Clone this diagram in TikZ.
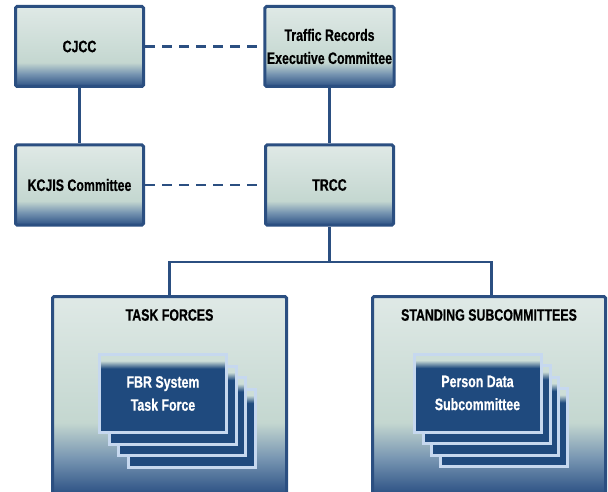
\documentclass[tikz,border=0pt]{standalone}
\usepackage{fontspec}
\setmainfont{Liberation Sans}[FakeStretch=0.75, BoldFeatures={FakeBold=0.6}]
\definecolor{boxline}{RGB}{43,79,129}
\definecolor{boxtop}{RGB}{223,233,230}
\definecolor{boxmid}{RGB}{196,215,208}
\definecolor{boxsteel}{RGB}{120,150,178}
\definecolor{boxdeep}{RGB}{45,82,133}
\definecolor{cardpale}{RGB}{205,222,216}
\definecolor{carddeep}{RGB}{31,74,126}
\definecolor{cardline}{RGB}{198,216,239}
\pgfdeclareverticalshading{boxshade}{100bp}{color(0bp)=(boxdeep); color(25bp)=(boxdeep); color(33bp)=(boxsteel); color(40bp)=(boxmid); color(75bp)=(boxtop); color(100bp)=(boxtop)}
\pgfdeclareverticalshading{bigshade}{100bp}{color(0bp)=(boxdeep); color(25bp)=(boxdeep); color(34bp)=(boxsteel); color(43bp)=(boxmid); color(75bp)=(boxtop); color(100bp)=(boxtop)}
\pgfdeclareverticalshading{cardshade}{100bp}{color(0bp)=(carddeep); color(66bp)=(carddeep); color(71bp)=(cardpale); color(100bp)=(cardpale)}

\begin{document}
\begin{tikzpicture}[x=1pt, y=-1pt,
	orgbox/.style={draw=boxline, line width=3pt, shading=boxshade, rounded corners=1.5pt,
		minimum width=128pt, minimum height=80pt, inner sep=2pt, align=center,
		font=\fontsize{16.5}{23}\selectfont\bfseries},
	groupbox/.style={draw=boxline, line width=3pt, shading=bigshade, rounded corners=1.5pt,
		minimum width=234pt, minimum height=197pt},
	grouptitle/.style={font=\fontsize{16.5}{23}\selectfont\bfseries},
	card/.style={draw=cardline, line width=3pt, shading=cardshade,
		minimum width=127pt, minimum height=78pt, inner sep=2pt, align=center, text=white,
		font=\fontsize{16.5}{23}\selectfont\bfseries},
	orglink/.style={draw=boxline, line width=2.5pt},
	dashlink/.style={orglink, dash pattern=on 10pt off 7pt}]
	\useasboundingbox (0,0) rectangle (608,492);
	%les boites du haut
	\node[orgbox] (cjcc) at (79.5,46.5) {CJCC};
	\node[orgbox] (trec) at (329.5,46.5) {Traffic Records\\Executive Committee};
	\node[orgbox] (kcjis) at (79.5,185) {KCJIS Committee};
	\node[orgbox] (trcc) at (329.5,185) {TRCC};
	%les groupes
	\node[groupbox] (taskforces) at (169.5,395) {};
	\node[groupbox, minimum width=233pt] (standing) at (489,395) {};
	\node[grouptitle] (tftitle) at (169.5,315) {TASK FORCES};
	\node[grouptitle] (sctitle) at (489,315) {STANDING SUBCOMMITTEES};
	%les cartes
	\node[card] (fbr4) at (191.5,428) {};
	\node[card] (fbr3) at (182,416.5) {};
	\node[card] (fbr2) at (172.5,405) {};
	\node[card] (fbr1) at (163,393.5) {FBR System\\Task Force};
	\node[card] (psd4) at (504,427.5) {};
	\node[card] (psd3) at (495,416) {};
	\node[card] (psd2) at (486.5,404.5) {};
	\node[card] (psd1) at (477.5,393) {Person Data\\Subcommittee};
	%les liens
	\coordinate (fork) at (329.5,262);
	\draw[dashlink] (cjcc) -- (trec);
	\draw[dashlink] (kcjis) -- (trcc);
	\draw[orglink] (cjcc) -- (kcjis);
	\draw[orglink] (trec) -- (trcc);
	\draw[orglink] (trcc) -- (fork);
	\draw[orglink] (taskforces.north) |- (fork) -| ([xshift=2.5pt]standing.north);
\end{tikzpicture}
\end{document}
